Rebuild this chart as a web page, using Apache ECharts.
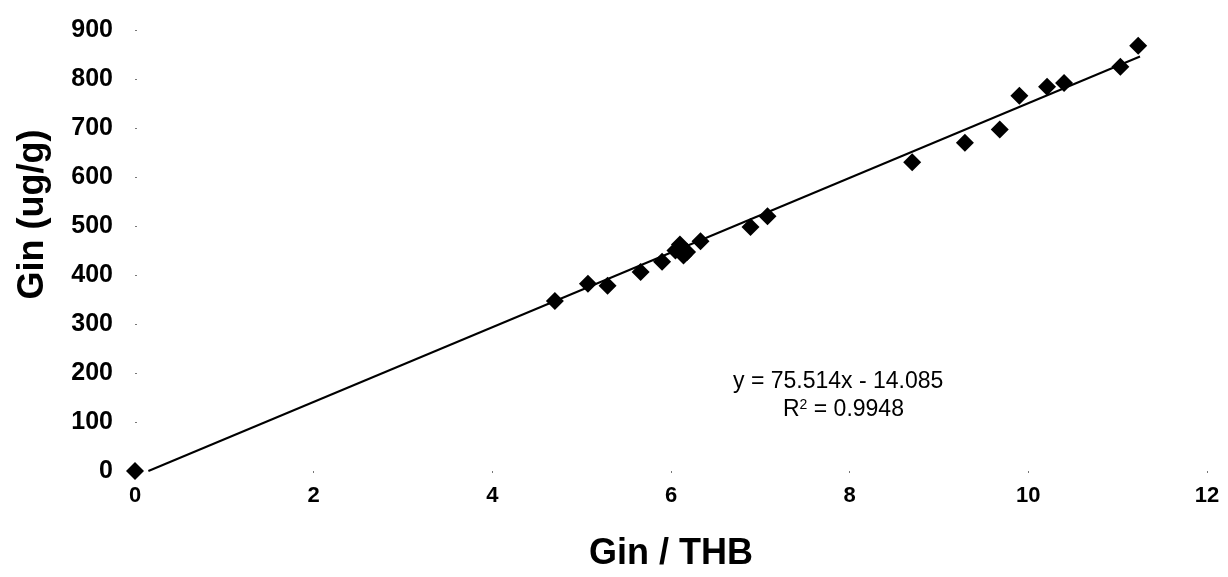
<!DOCTYPE html>
<html>
<head>
    <meta charset="utf-8">
    <title>Gin vs Gin/THB</title>
    <script src="https://cdn.jsdelivr.net/npm/echarts@6.0.0/dist/echarts.min.js"></script>
    <style>
        html, body { margin: 0; padding: 0; background: #fff; }
        #grafico { width: 1228px; height: 577px; }
    </style>
</head>
<body>
    <div id="grafico"></div>

    <script>
        // Datos
        const ginThb = [0, 4.70, 5.07, 5.29, 5.66, 5.90, 6.05, 6.10, 6.14, 6.18, 6.33, 6.89, 7.08, 8.70, 9.29, 9.68, 9.90, 10.21, 10.40, 11.03, 11.23];
        const ginUgG = [0, 347, 382, 378, 406, 427, 450, 462, 440, 447, 469, 498, 520, 630, 670, 697, 766, 784, 792, 825, 868];

        // Extremos de la linea de tendencia
        const tendenciaX = [0.15, 11.25];
        const tendenciaY = [0, 846];

        const xTicks = [0, 2, 4, 6, 8, 10, 12];
        const yTicks = [0, 100, 200, 300, 400, 500, 600, 700, 800, 900];

        const ecuacion = 'y = 75.514x - 14.085';
        const r2 = '0.9948';

        const fuente = '"Liberation Sans", Arial, sans-serif';

        const puntos = ginThb.map((x, i) => [x, ginUgG[i]]);
        const tendencia = tendenciaX.map((x, i) => [x, tendenciaY[i]]);

        const grafico = echarts.init(document.getElementById('grafico'));

        grafico.setOption({
            backgroundColor: '#ffffff',
            animation: false,
            grid: { left: 135, right: 21, top: 30, bottom: 104 },
            xAxis: {
                type: 'value',
                min: xTicks[0],
                max: xTicks[xTicks.length - 1],
                interval: 2,
                name: 'Gin / THB',
                nameLocation: 'middle',
                nameGap: 65,
                nameTextStyle: { fontFamily: fuente, fontSize: 36, fontWeight: 'bold', color: '#000' },
                axisLine: { show: false },
                axisTick: { show: true, length: 2, lineStyle: { color: '#777' } },
                splitLine: { show: false },
                axisLabel: { fontFamily: fuente, fontSize: 22, fontWeight: 'bold', color: '#000', margin: 14 }
            },
            yAxis: {
                type: 'value',
                min: yTicks[0],
                max: yTicks[yTicks.length - 1],
                interval: 100,
                name: 'Gin (ug/g)',
                nameLocation: 'middle',
                nameGap: 84,
                nameTextStyle: { fontFamily: fuente, fontSize: 36, fontWeight: 'bold', color: '#000', padding: [0, 0, 0, 72] },
                axisLine: { show: false },
                axisTick: { show: true, length: 2, inside: true, lineStyle: { color: '#777' } },
                splitLine: { show: false },
                axisLabel: { fontFamily: fuente, fontSize: 25, fontWeight: 'bold', color: '#000', margin: 22 }
            },
            graphic: [
                {
                    type: 'text',
                    left: 733, top: 370,
                    style: { text: ecuacion, fontFamily: fuente, fontSize: 23, fill: '#000' }
                },
                {
                    type: 'text',
                    left: 783, top: 398,
                    style: {
                        text: 'R{sup|2} = ' + r2,
                        fontFamily: fuente, fontSize: 23, fill: '#000',
                        rich: { sup: { fontSize: 14, verticalAlign: 'top', padding: [0, 0, 9, 0], fontFamily: fuente } }
                    }
                }
            ],
            series: [
                {
                    type: 'line',
                    data: tendencia,
                    symbol: 'none',
                    lineStyle: { color: '#000', width: 2 },
                    z: 2
                },
                {
                    type: 'scatter',
                    data: puntos,
                    symbol: 'diamond',
                    symbolSize: 18,
                    itemStyle: { color: '#000', opacity: 1 },
                    z: 3
                }
            ]
        });
    </script>
</body>
</html>
